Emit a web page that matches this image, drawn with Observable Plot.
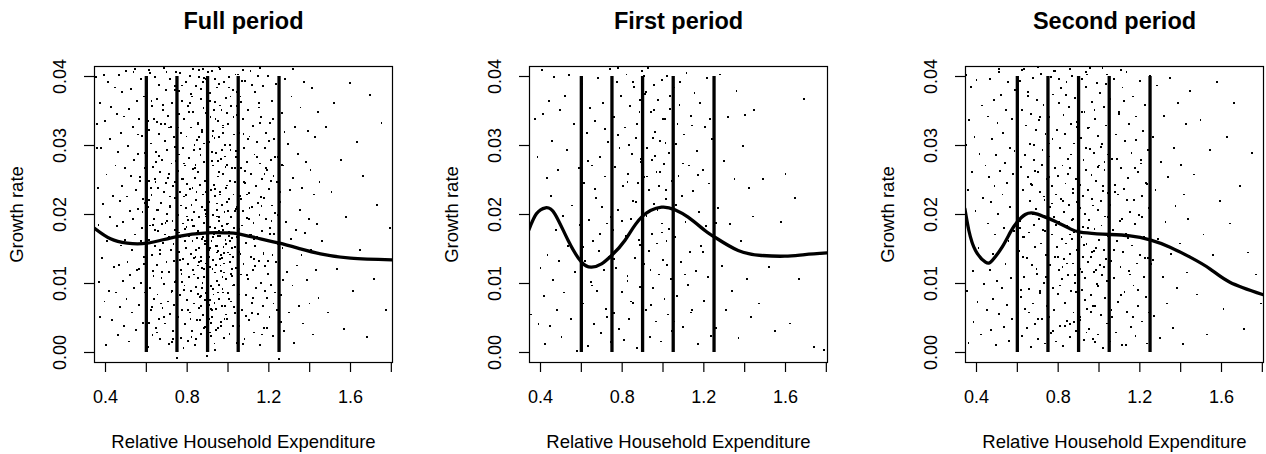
<!DOCTYPE html>
<html>
<head>
<meta charset="utf-8">
<script src="https://cdn.jsdelivr.net/npm/d3@7"></script>
<script src="https://cdn.jsdelivr.net/npm/@observablehq/plot@0.6"></script>
<style>
  html, body { margin: 0; padding: 0; background: white; }
  #wrap { position: relative; width: 1266px; height: 454px; background: white; overflow: hidden; }
  #wrap svg { position: absolute; top: 0; }
</style>
</head>
<body>
<div id="wrap"></div>
<script>
// ---- Data ----
const panelTitles = ["Full period", "First period", "Second period"];
const xTicks = [0.4, 0.6, 0.8, 1.0, 1.2, 1.4, 1.6, 1.8];
const xLabelTicks = [0.4, 0.8, 1.2, 1.6];
const yTicks = [0, 0.01, 0.02, 0.03, 0.04];
const thresholds = [0.6, 0.75, 0.9, 1.05, 1.25];

// smoothed fits
const fullCurveX = [0.346,0.4245,0.506,0.604,0.751,0.898,0.996,1.051,1.159,1.252,1.355,1.453,1.6,1.806];
const fullCurveY = [0.0180,0.01647,0.01584,0.01584,0.01681,0.01734,0.01734,0.0172,0.01647,0.01584,0.01502,0.0143,0.01367,0.01343];
const firstCurveX = [0.343,0.380,0.4245,0.470,0.5355,0.601,0.650,0.699,0.748,0.813,0.895,0.993,1.058,1.123,1.205,1.254,1.368,1.482,1.597,1.695,1.804];
const firstCurveY = [0.01778,0.0201,0.02097,0.0201,0.01623,0.01309,0.01237,0.01285,0.01406,0.01623,0.01961,0.02106,0.02068,0.01961,0.01768,0.01671,0.01478,0.01406,0.01396,0.0142,0.01444];
const secondCurveX = [0.343,0.3625,0.395,0.444,0.4765,0.5254,0.566,0.599,0.639,0.680,0.729,0.794,0.859,0.908,0.990,1.055,1.152,1.250,1.348,1.446,1.543,1.641,1.801];
const secondCurveY = [0.02082,0.01768,0.01478,0.01309,0.01333,0.01527,0.01744,0.01889,0.0200,0.0202,0.01971,0.01889,0.01792,0.01744,0.0172,0.0171,0.01691,0.01633,0.01527,0.01382,0.01213,0.01019,0.00841];

// scatter points: x, y pairs
const fullPts = [
.352,.0399,.357,.0331,.36,.0296,.363,.0238,.366,.0185,.37,.0102,.372,.0052,.375,.0361,.38,.0297,.384,.0137,.388,.0215,.391,.0402,.395,.0074,.398,.0335,.402,.0011,.405,.0258,.409,.0162,.412,.0392,.416,.0089,.42,.0309,.424,.0196,.428,.0356,.433,.0047,.437,.0227,.442,.0124,.446,.0384,.449,.0271,
.452,.0087,.455,.0346,.457,.0183,.46,.0025,.462,.0291,.465,.0127,.467,.0402,.47,.0219,.472,.0066,.475,.0318,.477,.0155,.48,.0377,.482,.0241,.485,.0104,.487,.0189,.49,.0038,.492,.0342,.495,.0267,.497,.0163,.5,.0408,.503,.0078,.505,.0226,.508,.0131,.51,.0299,.513,.0353,.515,.0016,.518,.0205,.52,.0112,.523,.0382,.525,.0256,.528,.0148,.53,.0058,.533,.0327,.535,.0194,.538,.0279,.54,.0093,.543,.0411,.545,.0171,.548,.0236,.55,.0032,.553,.0364,.555,.0119,.558,.0288,.56,.0208,.563,.0069,.565,.0339,.568,.0157,.57,.0248,.573,.0396,.575,.0101,.578,.0181,.58,.0314,.583,.0043,.585,.0223,.588,.0371,.59,.0139,.593,.0268,.595,.0087,.598,.0197,.599,.0345,
.601,.0052,.603,.0285,.604,.0137,.606,.0376,.608,.0211,.609,.0008,.611,.0322,.613,.0163,.615,.0249,.616,.0093,.618,.0405,.62,.0184,.622,.0061,.623,.0303,.625,.0228,.627,.0141,.629,.0357,.63,.0025,.632,.0269,.634,.0118,.636,.0193,.637,.0339,.639,.0077,.641,.0252,.643,.0399,.644,.0154,.646,.0035,.648,.0291,.65,.0206,.651,.0127,.653,.0368,.655,.0084,.657,.0238,.658,.0176,.66,.0317,.662,.0048,.664,.0388,.665,.0143,.667,.0262,.669,.0019,.671,.0217,.672,.0331,.674,.0108,.676,.0186,.678,.0279,.679,.0065,.681,.0352,.683,.0159,.685,.0233,.686,.0412,.688,.0099,.69,.0307,.692,.0171,.693,.0042,.695,.0246,.697,.0381,.699,.0131,.7,.0201,.702,.0293,.704,.0074,.706,.0343,.707,.0166,.709,.0012,.711,.0259,.713,.0117,.714,.0396,.716,.0213,.718,.0056,.72,.0327,.721,.0149,.723,.0274,.725,.0089,.727,.0361,.728,.0191,.73,.0031,.732,.0241,.734,.0133,.735,.0312,.737,.0069,.739,.0386,.741,.0177,.742,.0224,.744,.0104,.746,.0298,.748,.0155,.749,-.0008,
.751,.0345,.752,.0122,.754,.0263,.755,.0051,.757,.0199,.758,.0379,.76,.0146,.761,.0287,.763,.0083,.764,.0232,.766,.0405,.767,.0168,.769,.0021,.77,.0318,.772,.0114,.773,.0251,.775,.0062,.776,.0364,.778,.0187,.779,.0297,.781,.0136,.782,.0007,.784,.0226,.785,.0338,.787,.0097,.788,.0179,.79,.0271,.791,.0041,.793,.0392,.794,.0152,.796,.0209,.797,.0313,.799,.0076,.8,.0244,.802,.0128,.803,.0357,.805,.0017,.806,.0192,.808,.0282,.809,.0109,.811,.0169,.812,.0401,.814,.0058,.815,.0237,.817,.0143,.818,.0326,.82,.0089,.821,.0214,.823,.0371,.824,.0031,.826,.0161,.827,.0266,.829,.0119,.83,.0348,.832,.0203,.833,.0071,.835,.0293,.836,.0183,.838,.0011,.839,.0253,.841,.0138,.842,.0386,.844,.0095,.845,.0221,.847,.0308,.848,.0047,.85,.0174,.851,.0261,.853,.0126,.854,.0332,.856,.0064,.857,.0196,.859,.0409,.86,.0151,.862,.0243,.863,.0081,.865,.0286,.866,.0133,.868,.0367,.869,.0027,.871,.0211,.872,.0164,.874,.0319,.875,.0101,.877,.0229,.878,.0054,.88,.0354,.881,.0188,.883,.0121,.884,.0276,.886,.0037,.887,.0248,.889,.0157,.89,.0397,.892,.0086,.893,.0201,.895,.0334,.896,.0113,.898,.0171,.899,-.0005,
.901,.0262,.902,.0142,.904,.0375,.905,.0069,.907,.0218,.908,.0305,.91,.0124,.911,.0182,.913,.0029,.914,.0341,.916,.0235,.917,.0096,.919,.0161,.92,.0408,.922,.0277,.923,.0051,.925,.0199,.926,.0134,.928,.0321,.929,.0084,.931,.0243,.932,.0172,.934,.0013,.935,.0363,.937,.0116,.938,.0227,.94,.0289,.941,.0063,.943,.0154,.944,.0384,.946,.0207,.947,.0103,.949,.0336,.95,.0036,.952,.0255,.953,.0147,.955,.0191,.956,.0312,.958,.0078,.959,.0411,.961,.0169,.962,.0233,.964,.0118,.965,.0281,.967,.0044,.968,.0352,.97,.0137,.971,.0214,.973,.0092,.974,.0326,.976,.0178,.977,.0259,.979,.0021,.98,.0392,.982,.0129,.983,.0204,.985,.0067,.986,.0301,.988,.0163,.989,.0238,.991,.0107,.992,.0369,.994,.0186,.995,.0048,.997,.0272,.998,.0145,1,.0331,1.001,.0086,1.003,.0222,1.004,.0175,1.006,.0399,1.007,.0027,1.009,.0249,1.01,.0131,1.012,.0294,1.013,.0074,1.015,.0196,1.016,.0357,1.018,.0111,1.019,.0166,1.021,.0268,1.022,.0039,1.024,.0381,1.025,.0138,1.027,.0229,1.028,.0098,1.03,.0316,1.031,.0181,1.033,.0057,1.034,.0247,1.036,.0153,1.037,.0403,1.039,.0122,1.04,.0283,1.042,.0014,1.043,.0211,1.045,.0344,1.046,.0167,1.048,.0081,1.049,.0256,
1.052,.0318,1.054,.0146,1.056,.0039,1.058,.0227,1.061,.0371,1.063,.0113,1.065,.0268,1.067,.0184,1.07,.0062,1.072,.0339,1.074,.0205,1.076,.0128,1.078,.0297,1.081,.0019,1.083,.0246,1.085,.0394,1.087,.0159,1.09,.0083,1.092,.0276,1.094,.0195,1.096,.0352,1.098,.0106,1.101,.0231,1.103,.0047,1.105,.0313,1.107,.0171,1.11,.0408,1.112,.0139,1.114,.0259,1.116,.0072,1.118,.0211,1.121,.0328,1.123,.0119,1.125,.0188,1.127,.0029,1.13,.0287,1.132,.0154,1.134,.0377,1.136,.0093,1.138,.0241,1.141,.0167,1.143,.0305,1.145,.0056,1.147,.0217,1.15,.0133,1.152,.0362,1.154,.0199,1.156,.0011,1.158,.0274,1.161,.0101,1.163,.0341,1.165,.0176,1.167,.0251,1.17,.0068,1.172,.0386,1.174,.0143,1.176,.0224,1.178,.0036,1.181,.0296,1.183,.0125,1.185,.0193,1.187,.0318,1.19,.0079,1.192,.0264,1.194,.0161,1.196,.0401,1.198,.0114,1.201,.0237,1.203,.0052,1.205,.0332,1.207,.0181,1.21,.0279,1.212,.0098,1.214,.0213,1.216,.0365,1.218,.0141,1.221,.0024,1.223,.0256,1.225,.0172,1.227,.0309,1.23,.0087,1.232,.0202,1.234,.0389,1.236,.0131,1.238,.0247,1.241,.0061,1.243,.0283,1.245,.0157,1.247,.0346,1.249,-.0009,
1.254,.0218,1.258,.0083,1.263,.0347,1.267,.0152,1.272,.0271,1.276,.0031,1.28,.0396,1.285,.0189,1.289,.0117,1.294,.0302,1.298,.0058,1.302,.0236,1.307,.0165,1.311,.0371,1.316,.0097,1.32,.0253,1.324,.0014,1.329,.0327,1.333,.0178,1.338,.0126,1.342,.0288,1.346,.0068,1.351,.0207,1.355,.0355,1.36,.0141,1.364,.0238,1.368,.0042,1.373,.0392,1.377,.0173,1.382,.0276,1.386,.0105,1.39,.0321,1.395,.0193,1.399,.0071,1.404,.0264,1.408,.0148,1.412,.0383,1.417,.0026,1.421,.0229,1.426,.0312,1.43,.0119,1.434,.0186,1.439,.0348,1.443,.0079,1.448,.0247,
1.462,.0161,1.478,.0327,1.49,.0058,1.507,.0232,1.52,.0361,1.535,.0121,1.552,.0279,1.567,.0034,1.58,.0196,1.598,.0391,1.614,.0089,1.63,.0305,1.648,.0148,1.663,.0256,1.68,.0022,1.697,.0373,1.714,.0106,1.73,.0214,1.752,.0332,1.774,.0062,1.792,.0181
];
const fullPtsCore = [
.873,.0123,.652,.0334,1.118,.0057,.781,.0251,.954,.0389,1.207,.0172,.598,.0093,1.033,.0268,.726,.0015,.889,.0207,
.967,.0141,.813,.0362,1.092,.0229,.634,.0185,1.261,.0044,.742,.0298,.911,.0076,1.157,.0333,.568,.0254,1.008,.0161,
.845,.0019,.699,.0407,1.126,.0136,.927,.0271,.776,.0102,1.043,.0357,.612,.0221,1.182,.0089,.858,.0312,.983,.0049,
.709,.0168,1.069,.0393,.826,.0239,.589,.0128,1.231,.0283,.938,.0003,.761,.0346,1.101,.0194,.672,.0071,.902,.0258,
1.016,.0114,.797,.0182,1.145,.0401,.645,.0247,.882,.0036,1.277,.0319,.733,.0157,.961,.0229,1.054,.0084,.818,.0375,
.581,.0203,1.196,.0132,.921,.0291,.687,.0052,1.085,.0263,.769,.0119,.995,.0347,1.168,.0026,.853,.0176,.625,.0365,
1.039,.0208,.748,.0095,.947,.0154,1.219,.0338,.804,.0061,.662,.0285,1.111,.0171,.879,.0392,.973,.0109,.716,.0226,
1.074,.0012,.836,.0301,.602,.0147,1.244,.0199,.916,.0063,.784,.0274,1.001,.0187,.691,.0331,1.139,.0241,.866,.0082,
.558,.0316,.958,.0196,1.061,.0143,.739,.0381,.891,.0129,1.187,.0267,.821,.0022,.643,.0178,1.023,.0097,.932,.0352,
.771,.0213,1.097,.0309,.677,.0117,.849,.0166,1.268,.0105,.987,.0284,.611,.0043,1.162,.0225,.906,.0149,.757,.0326,
1.047,.0403,.832,.0137,.704,.0253,.969,.0067,1.213,.0191,.591,.0289,.894,.0233,1.124,.0079,.789,.0162,1.012,.0371,
.657,.0206,.941,.0032,1.079,.0247,.862,.0295,.723,.0088,1.174,.0144,.809,.0349,.996,.0218,.635,.0111,1.056,.0179,
.884,.0398,.752,.0058,1.201,.0306,.929,.0173,.621,.0239,1.134,.0125,.838,.0267,1.027,.0039,.694,.0188,.977,.0329,
1.105,.0209,.766,.0134,.913,.0376,.575,.0161,1.253,.0232,.853,.0108,1.041,.0292,.718,.0211,.951,.0087,1.151,.0355,
.798,.0197,.668,.0148,1.088,.0053,.896,.0244,1.005,.0169,.744,.0277,1.223,.0071,.827,.0183,.607,.0336,.963,.0126,
1.065,.0222,.877,.0167,.729,.0019,1.179,.0259,.934,.0311,.783,.0091,1.019,.0152,.649,.0276,1.116,.0388,.869,.0139,
.994,.0242,.711,.0326,1.236,.0158,.816,.0048,.946,.0197,1.062,.0363,.595,.0217,.888,.0076,1.143,.0283,.761,.0174,
.924,.0121,1.035,.0205,.683,.0359,.846,.0233,1.192,.0036,.978,.0153,.739,.0247,1.094,.0112,.859,.0399,.629,.0066,
1.009,.0301,.794,.0228,1.128,.0164,.909,.0049,.701,.0191,1.266,.0272,.873,.0323,.955,.0176,1.051,.0131,.776,.0387,
.562,.0121,1.164,.0212,.899,.0266,.741,.0102,.982,.0144,1.076,.0317,.823,.0192,.654,.0029,1.209,.0248,.937,.0237,
.871,.0094,.903,.0118,.934,.0072,.962,.0135,.887,.0161,.918,.0043,.946,.0104,.975,.0087,.859,.0131,.992,.0055,
.912,.0152,.941,.0127,.867,.0068,.953,.0169,.898,.0027,.926,.0092,.981,.0116,.843,.0149,1.004,.0078,.938,.0181,
.881,.0109,.965,.0039,.909,.0138,.851,.0085,.989,.0157,.921,.0061,.947,.0145,.876,.0173,1.018,.0121,.958,.0098,
1.031,.0066,.893,.0197,.832,.0113,.971,.0183,.916,.0024,.944,.0216,1.011,.0142,.864,.0047,.998,.0205,.927,.0167,
.884,.0303,.913,.0364,.949,.0277,.976,.0318,.869,.0382,1.027,.0341,.935,.0396,.901,.0287,.961,.0358,.852,.0331,
.988,.0269,.924,.0314,1.046,.0378,.892,.0347,.969,.0293,.841,.0272,1.003,.0384,.939,.0338,.877,.0411,.957,.0262,
.612,.0409,.688,.0413,.744,.0407,.829,.0411,.903,.0406,.958,.0413,1.072,.0409,1.156,.0412,.537,.0406,1.318,.0411
];

const firstPts = [
.355,.0055,.372,.0339,.385,.0283,.39,.0041,.4,.0123,.406,.0409,.412,.0346,.418,.0082,.423,.0012,.43,.0253,.434,.0141,.44,.0364,.447,.0038,.452,.0227,.458,.0306,.462,.0105,.468,.0399,.474,.0178,.48,.0061,.486,.0264,.49,.0133,.497,.0352,.503,.0022,.51,.0198,.516,.0087,.522,.0372,.528,.0294,.535,.0154,.541,.0402,.548,.0048,.555,.0213,.562,.0331,.57,.0117,.578,.0002,.588,.0268,.595,.0185,
.605,.0389,.61,.0071,.615,.0246,.62,.0133,.626,.0318,.631,.0009,.636,.0192,.641,.0354,.646,.0102,.651,.0271,.656,.0161,.661,.0041,.667,.0335,.672,.0224,.677,.0089,.682,.0398,.687,.0147,.692,.0283,.697,.0028,.702,.0211,.707,.0362,.712,.0119,.717,.0255,.722,.0063,.727,.0187,.732,.0305,.737,.0138,.742,.0411,.747,.0015,.749,.0232,
.754,.0178,.758,.0341,.762,.0057,.766,.0269,.771,.0123,.775,.0392,.779,.0206,.783,.0034,.787,.0297,.792,.0155,.796,.0372,.8,.0088,.804,.0241,.809,.0018,.813,.0326,.817,.0169,.821,.0403,.826,.0111,.83,.0259,.834,.0049,.838,.0357,.843,.0193,.847,.0288,.851,.0072,.855,.0219,.86,.0385,.864,.0137,.868,.0311,.872,.0006,.877,.0246,.881,.0163,.885,.0348,.889,.0095,.894,.0276,.898,.0408,
.902,.0331,.905,.0128,.909,.0254,.912,.0375,.916,.0061,.919,.0198,.923,.0297,.926,.0412,.93,.0147,.933,.0236,.937,.0022,.94,.0348,.944,.0172,.947,.0279,.951,.0093,.954,.0388,.958,.0215,.961,.0319,.965,.0045,.968,.0262,.972,.0158,.975,.0366,.979,.0113,.982,.0241,.986,.0307,.989,.0016,.993,.0187,.996,.0395,1,.0134,1.003,.0273,1.007,.0078,1.01,.0338,1.014,.0222,1.017,.0161,1.021,.0401,1.024,.0055,1.028,.0289,1.031,.0179,1.035,.0353,1.038,.0106,1.042,.0248,1.046,.0031,
1.054,.0384,1.059,.0167,1.065,.0302,1.07,.0082,1.076,.0256,1.081,.0359,1.087,.0131,1.093,.0227,1.098,.0037,1.104,.0316,1.11,.0189,1.115,.0405,1.121,.0098,1.126,.0271,1.132,.0146,1.138,.0343,1.143,.0061,1.149,.0234,1.154,.0376,1.16,.0118,1.166,.0292,1.171,.0012,1.177,.0203,1.182,.0361,1.188,.0154,1.194,.0264,1.199,.0075,1.205,.0327,1.21,.0183,1.216,.0398,1.222,.0109,1.227,.0245,1.233,.0024,1.238,.0309,1.244,.0171,
1.26,.0036,1.27,.0209,1.28,.0403,1.29,.0125,1.3,.0278,1.31,.0062,1.32,.0341,1.33,.0186,1.34,.0089,1.35,.0252,1.36,.0379,1.37,.0021,1.38,.0161,1.39,.0299,1.4,.0344,1.41,.0107,1.42,.0238,1.43,.0052,1.44,.0197,1.445,.0352,
1.47,.0071,1.49,.0251,1.52,.0124,1.55,.0031,1.58,.0189,1.6,.0259,1.62,.0042,1.645,.0224,1.665,.0106,1.69,.0368,1.74,.0008,1.79,.0004
];
const firstPtsCore = [
.893,.0281,.957,.0352,1.012,.0304,.826,.0247,1.083,.0392,.918,.0378,.781,.0315,1.142,.0329,.867,.0218,.985,.0261,
.652,.0097,.724,.0052,1.107,.0113,.845,.0074,1.196,.0146,.939,.0119,.692,.0172,1.052,.0045,.762,.0135,.973,.0207,
1.229,.0339,.631,.0277,.801,.0191,1.173,.0257,.886,.0156,1.021,.0127,.714,.0324,.942,.0069,1.261,.0188,.853,.0392,
1.064,.0214,.779,.0412,.608,.0153,.993,.0174,1.137,.0058,.905,.0401,.744,.0196,1.098,.0274,.826,.0103,.668,.0237,
.962,.0285,1.035,.0372,.871,.0331,.923,.0255,.998,.0339,.834,.0301,1.016,.0236,.949,.0311,.888,.0366,1.071,.0331
];

const secondPts = [
.347,.0301,.35,.0402,.353,.0089,.357,.0236,.361,.0014,.365,.0337,.369,.0168,.373,.0385,.377,.0261,.381,.0118,.385,.0044,.39,.0312,.395,.0205,.4,.0395,.405,.0073,.41,.0152,.415,.0288,.42,.0026,.426,.0358,.432,.0224,.438,.0099,.444,.0271,
.452,.0061,.455,.0342,.458,.0187,.461,.0254,.464,.0119,.467,.0397,.47,.0032,.473,.0218,.476,.0309,.479,.0143,.482,.0078,.485,.0366,.488,.0241,.491,.0171,.494,.0011,.497,.0286,.5,.0104,.503,.0332,.506,.0201,.509,.0407,.512,.0056,.515,.0263,.518,.0152,.521,.0373,.524,.0093,.527,.0229,.53,.0318,.533,.0037,.536,.0181,.539,.0275,.542,.0128,.545,.0351,.548,.0069,.551,.0246,.554,.0392,.557,.0162,.56,.0017,.563,.0297,.566,.0211,.569,.0108,.572,.0338,.575,.0049,.579,.0259,.584,.0176,.59,.0381,.596,.0134,
.601,.0224,.603,.0057,.606,.0313,.608,.0147,.611,.0393,.613,.0191,.616,.0081,.618,.0269,.621,.0024,.623,.0352,.626,.0168,.628,.0236,.631,.0109,.633,.0411,.636,.0286,.638,.0063,.641,.0201,.643,.0329,.646,.0137,.648,.0035,.651,.0254,.653,.0378,.656,.0174,.658,.0092,.661,.0302,.663,.0219,.666,.0008,.668,.0346,.671,.0127,.673,.0243,.676,.0398,.678,.0071,.681,.0185,.683,.0279,.686,.0153,.688,.0041,.691,.0322,.693,.0208,.696,.0366,.698,.0114,.701,.0261,.703,.0019,.706,.0194,.708,.0337,.711,.0086,.713,.0232,.716,.0404,.718,.0158,.721,.0048,.723,.0294,.726,.0177,.728,.0359,.731,.0101,.733,.0221,.736,.0013,.738,.0317,.741,.0141,.743,.0252,.746,.0067,.748,.0387,
.751,.0163,.753,.0284,.755,.0052,.757,.0341,.759,.0211,.761,.0127,.764,.0399,.766,.0028,.768,.0241,.77,.0171,.772,.0309,.774,.0094,.776,.0374,.779,.0196,.781,.0061,.783,.0268,.785,.0138,.787,.0408,.789,.0229,.791,.0016,.794,.0323,.796,.0153,.798,.0085,.8,.0256,.802,.0361,.804,.0119,.806,.0189,.809,.0039,.811,.0296,.813,.0222,.815,.0383,.817,.0107,.819,.0164,.821,.0271,.824,.0009,.826,.0344,.828,.0135,.83,.0203,.832,.0072,.834,.0317,.836,.0245,.839,.0158,.841,.0392,.843,.0046,.845,.0183,.847,.0281,.849,.0112,.851,.0356,.854,.0214,.856,.0023,.858,.0267,.86,.0143,.862,.0331,.864,.0089,.866,.0192,.869,.0401,.871,.0129,.873,.0237,.875,.0058,.877,.0303,.879,.0174,.881,.0369,.884,.0101,.886,.0251,.888,.0031,.89,.0218,.892,.0148,.894,.0327,.896,.0077,.899,.0286,
.901,.0186,.903,.0354,.905,.0121,.907,.0243,.909,.0047,.911,.0311,.914,.0168,.916,.0397,.918,.0091,.92,.0227,.922,.0139,.924,.0279,.926,.0018,.929,.0348,.931,.0201,.933,.0108,.935,.0264,.937,.0385,.939,.0157,.941,.0063,.944,.0236,.946,.0325,.948,.0131,.95,.0192,.952,.0034,.954,.0295,.956,.0412,.959,.0174,.961,.0083,.963,.0257,.965,.0146,.967,.0363,.969,.0019,.971,.0213,.974,.0117,.976,.0289,.978,.0179,.98,.0338,.982,.0068,.984,.0248,.986,.0152,.989,.0391,.991,.0099,.993,.0206,.995,.0026,.997,.0314,.999,.0163,1.001,.0271,1.004,.0127,1.006,.0376,1.008,.0054,1.01,.0219,1.012,.0184,1.014,.0302,1.016,.0112,1.019,.0241,1.021,.0007,1.023,.0356,1.025,.0148,1.027,.0265,1.029,.0079,1.031,.0197,1.034,.0329,1.036,.0136,1.038,.0403,1.04,.0042,1.042,.0231,1.044,.0169,1.046,.0287,1.049,.0094,
1.052,.0214,1.055,.0367,1.059,.0132,1.062,.0052,1.065,.0281,1.069,.0177,1.072,.0396,1.075,.0108,1.079,.0243,1.082,.0029,1.085,.0316,1.089,.0161,1.092,.0229,1.095,.0073,1.099,.0349,1.102,.0191,1.105,.0124,1.109,.0268,1.112,.0011,1.115,.0384,1.119,.0146,1.122,.0237,1.125,.0088,1.129,.0306,1.132,.0172,1.135,.0407,1.139,.0059,1.142,.0253,1.145,.0118,1.149,.0331,1.152,.0204,1.155,.0037,1.159,.0289,1.162,.0155,1.165,.0371,1.169,.0097,1.172,.0221,1.175,.0186,1.179,.0024,1.182,.0342,1.185,.0129,1.189,.0261,1.192,.0067,1.195,.0199,1.199,.0393,1.202,.0141,1.205,.0274,1.209,.0045,1.212,.0227,1.215,.0321,1.219,.0109,1.222,.0168,1.225,.0359,1.229,.0081,1.232,.0246,1.235,.0013,1.239,.0294,1.242,.0137,1.245,.0209,1.249,.0401,
1.256,.0128,1.263,.0312,1.27,.0053,1.277,.0235,1.284,.0387,1.291,.0164,1.298,.0021,1.305,.0276,1.312,.0109,1.319,.0343,1.326,.0189,1.333,.0071,1.34,.0254,1.347,.0398,1.354,.0143,1.361,.0036,1.368,.0297,1.375,.0212,1.382,.0093,1.389,.0361,1.396,.0158,1.403,.0272,1.41,.0012,1.417,.0229,1.424,.0331,1.431,.0116,1.438,.0194,1.445,.0379,
1.465,.0258,1.48,.0084,1.497,.0337,1.512,.0171,1.528,.0026,1.545,.0294,1.56,.0141,1.577,.0392,1.593,.0219,1.61,.0063,1.626,.0312,1.642,.0187,1.66,.0362,1.676,.0098,1.692,.0241,1.71,.0034,1.728,.0145,1.748,.0289,1.77,.0113,1.795,.0071
];
const secondPtsCore = [
.884,.0112,.931,.0076,.962,.0138,.907,.0051,.869,.0164,.994,.0096,.948,.0181,1.023,.0124,.856,.0041,.977,.0147,
.915,.0117,.939,.0029,1.008,.0172,.889,.0088,.961,.0059,.843,.0129,1.041,.0103,.926,.0156,.982,.0015,.873,.0193,
.757,.0254,.682,.0301,1.137,.0221,.631,.0167,1.204,.0279,.712,.0089,1.096,.0346,.798,.0138,1.168,.0052,.653,.0372,
.824,.0219,1.061,.0062,.734,.0176,1.225,.0137,.599,.0253,.951,.0326,1.114,.0194,.776,.0031,.862,.0287,1.018,.0234,
.694,.0121,1.183,.0308,.837,.0373,.619,.0091,.993,.0269,1.072,.0149,.749,.0339,.905,.0209,1.246,.0058,.668,.0244,
.811,.0097,1.033,.0389,.722,.0272,1.151,.0113,.878,.0044,.964,.0222,.641,.0329,1.087,.0281,.789,.0185,1.212,.0196,
.935,.0297,.703,.0048,1.124,.0364,.849,.0259,.612,.0181,1.052,.0016,.768,.0216,.987,.0119,1.176,.0268,.893,.0334,
.676,.0201,1.107,.0083,.821,.0124,.943,.0403,1.235,.0244,.741,.0109,1.011,.0298,.657,.0058,.871,.0231,1.144,.0166,
.586,.0292,.922,.0182,1.078,.0232,.803,.0397,.713,.0341,.969,.0067,1.193,.0091,.835,.0038,1.044,.0196,.628,.0139,
.901,.0245,.754,.0303,1.132,.0011,.978,.0352,.687,.0263,1.265,.0134,.859,.0171,1.027,.0276,.731,.0226,.917,.0349,
.622,.0409,.703,.0413,.781,.0408,.857,.0411,.938,.0407,1.017,.0412,1.108,.0409,.512,.0411
];

// ---- Drawing ----
const FONT = "'Liberation Sans', Arial, Helvetica, sans-serif";
const panelLeft = [0, 435, 871];

function pairs(arr) {
  const out = [];
  for (let i = 0; i + 1 < arr.length; i += 2) out.push({x: arr[i], y: arr[i + 1]});
  return out;
}

function panel(title, pts, cx, cy) {
  const dots = pairs(pts);
  const curve = cx.map((x, i) => ({x, y: cy[i]}));
  return Plot.plot({
    width: 395, height: 454,
    marginLeft: 94, marginRight: 3, marginTop: 66, marginBottom: 92,
    x: {domain: [0.3461, 1.8057], label: null},
    y: {domain: [-0.00145, 0.04145], label: null},
    style: {fontFamily: FONT, fontSize: "18px", background: "white", color: "black", overflow: "visible"},
    marks: [
      Plot.dot(dots, {x: "x", y: "y", r: 1.05, symbol: "square", fill: "black", stroke: "none", clip: true, shapeRendering: "crispEdges"}),
      Plot.ruleX(thresholds, {x: d => d, y1: () => 0, y2: () => 0.04, stroke: "black", strokeWidth: 3.3}),
      Plot.line(curve, {x: "x", y: "y", curve: "natural", stroke: "black", strokeWidth: 3.3, clip: true}),
      Plot.frame({stroke: "black", strokeWidth: 1.2}),
      Plot.axisX({ticks: xTicks, tickSize: 10, tickPadding: 18, strokeWidth: 1.2, fontSize: 18, label: null,
        tickFormat: d => xLabelTicks.includes(d) ? d.toFixed(1) : ""}),
      Plot.axisY({ticks: yTicks, tickSize: 10, strokeWidth: 1.2, label: null, tickFormat: () => ""}),
      Plot.text(yTicks, {y: d => d, frameAnchor: "left", dx: -34, rotate: -90, textAnchor: "middle", lineAnchor: "middle",
        text: d => d.toFixed(2), fontSize: 18, fill: "black"}),
      Plot.text([title], {frameAnchor: "top", dy: -45, textAnchor: "middle", lineAnchor: "middle",
        text: d => d, fontSize: 23.5, fontWeight: "bold", fill: "black"}),
      Plot.text(["Relative Household Expenditure"], {frameAnchor: "bottom", dy: 80, textAnchor: "middle", lineAnchor: "middle",
        text: d => d, fontSize: 18.5, fill: "black"}),
      Plot.text(["Growth rate"], {frameAnchor: "left", dx: -77, rotate: -90, textAnchor: "middle", lineAnchor: "middle",
        text: d => d, fontSize: 18.5, fill: "black"})
    ]
  });
}

const wrap = document.getElementById("wrap");
const specs = [
  [panelTitles[0], fullPts.concat(fullPtsCore), fullCurveX, fullCurveY],
  [panelTitles[1], firstPts.concat(firstPtsCore), firstCurveX, firstCurveY],
  [panelTitles[2], secondPts.concat(secondPtsCore), secondCurveX, secondCurveY]
];
specs.forEach((s, i) => {
  const svg = panel(...s);
  svg.style.left = panelLeft[i] + "px";
  wrap.appendChild(svg);
});
</script>
</body>
</html>
